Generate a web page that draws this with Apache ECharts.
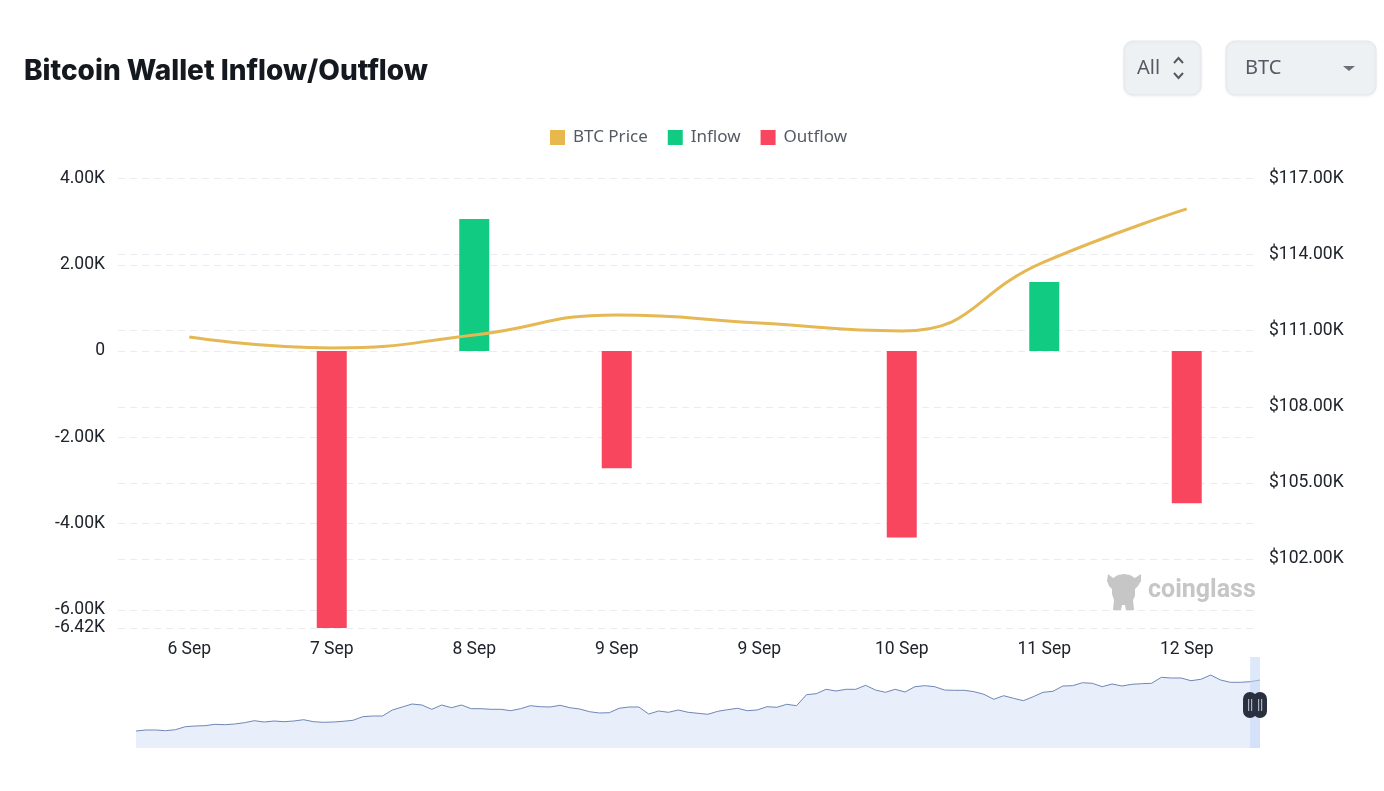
<!DOCTYPE html>
<html>
<head>
<meta charset="utf-8">
<style>html,body{margin:0;padding:0;background:#fff}#c{width:1384px;height:791px}</style>
<script src="https://cdn.jsdelivr.net/npm/echarts@6/dist/echarts.min.js"></script>
</head>
<body>
<div id="c"></div>
<script>
const categories = ['6 Sep','7 Sep','8 Sep','9 Sep','9 Sep','10 Sep','11 Sep','12 Sep'];
const btcPrice = [110750,110320,110830,111620,111300,110990,113710,115800];
const inflow = [null,null,3060,null,null,null,1600,null];
const outflow = [null,-6420,null,-2715,null,-4320,null,-3530];
const overviewPrice = [
17,18,18,17.3,18.3,21.3,22,22.3,23.7,23.3,24,25.3,27.3,26,27,26.3,27,28.3,26.3,25.7,26,26.7,27.7,31.3,32,32,38,41,44,
43,38.7,43,40.3,43,39.3,39.3,38.7,38.7,37.3,39.3,42.3,41.3,41,42.7,40.3,39,36.3,35,35.3,39.7,41,41,34,37,35.7,38,35.7,34.7,
33.7,36.7,38.3,39.7,37.3,38,41.3,40.7,43.7,42.3,53.3,54.3,58.7,57,58.7,58.7,62.7,58,55.7,58.7,56,61.3,62.3,61.3,58,57.7,57.7,56.3,
53.7,48.7,52.3,49.7,47.3,51.3,55.7,56.7,62,62.3,65.3,64.7,61.3,64,62,63.7,64.3,64.7,70.7,70,70,67.3,68.7,73,68,65.7,65.7,66.3,68
];
const overviewIndex = overviewPrice.map((_, i) => i);
const leftTicks = [-6420,-6000,-4000,-2000,0,2000,4000];
const rightTicks = [99280,102000,105000,108000,111000,114000,117000];
const rightLabels = [102000,105000,108000,111000,114000,117000];

const labelFont = 'Roboto';
const uiFont = '"Noto Sans"';
const split = {show:true,lineStyle:{color:'#e9ecf1',type:[7,5],width:1.2}};
const kFmt = v => v === 0 ? '0' : (v/1000).toFixed(2) + 'K';
const last = overviewPrice.length - 1;

const chart = echarts.init(document.getElementById('c'));
const option = {
  animation:false,
  backgroundColor:'#fff',
  title:{text:'Bitcoin Wallet Inflow/Outflow',left:19,top:53,textStyle:{fontFamily:'Inter',fontSize:28,fontWeight:800,color:'#14181f',letterSpacing:-0.87}},
  legend:{top:124,left:545,itemWidth:15,itemHeight:15,itemGap:20,icon:'rect',
    data:['BTC Price','Inflow','Outflow'],
    textStyle:{fontFamily:uiFont,fontSize:17,color:'#555a63',padding:[0,0,0,3]}},
  grid:[
    {left:118,right:126,top:178.5,height:449.5},
    {left:136,right:124,top:657,height:91}
  ],
  xAxis:[
    {type:'category',data:categories,gridIndex:0,axisLine:{show:false},axisTick:{show:false},
     axisLabel:{fontFamily:labelFont,fontSize:17.5,color:'#20242b',margin:13,interval:0}},
    {type:'category',data:overviewIndex,gridIndex:1,boundaryGap:false,show:false}
  ],
  yAxis:[
    {type:'value',gridIndex:0,min:-6420,max:4000,
     axisLine:{show:false},axisTick:{show:false,customValues:leftTicks},splitLine:split,
     axisLabel:{fontFamily:labelFont,fontSize:17.5,color:'#20242b',margin:13,formatter:kFmt,customValues:leftTicks}},
    {type:'value',gridIndex:0,position:'right',min:99280,max:117000,
     axisLine:{show:false},axisTick:{show:false,customValues:rightTicks},splitLine:split,
     axisLabel:{fontFamily:labelFont,fontSize:17.5,color:'#20242b',margin:11,
       formatter:v => '$' + (v/1000).toFixed(2) + 'K',customValues:rightLabels}},
    {type:'value',gridIndex:1,min:0,max:91,show:false}
  ],
  series:[
    {name:'BTC Price',type:'line',yAxisIndex:1,data:btcPrice,smooth:true,showSymbol:false,symbol:'none',z:5,
     lineStyle:{color:'#e5b854',width:3},itemStyle:{color:'#e8b84f'}},
    {name:'Inflow',type:'bar',stack:'flow',data:inflow,barWidth:30,itemStyle:{color:'#10cb81'}},
    {name:'Outflow',type:'bar',stack:'flow',data:outflow,barWidth:30,itemStyle:{color:'#f9465f'}},
    {name:'Overview',type:'line',xAxisIndex:1,yAxisIndex:2,data:overviewPrice,showSymbol:false,symbol:'none',
     lineStyle:{color:'#6f87b5',width:1},areaStyle:{color:'#e8effb',opacity:1},silent:true,
     markArea:{silent:true,z:6,itemStyle:{color:'#c3d5f8',opacity:0.55},data:[[{xAxis:last-1,yAxis:0},{xAxis:last,yAxis:91}]]}}
  ],
  graphic:[
    {type:'rect',shape:{x:1124,y:41,width:77,height:54,r:9},style:{fill:'#eef1f4',stroke:'#e3e7eb',lineWidth:1,shadowBlur:3,shadowColor:'rgba(0,0,0,0.06)',shadowOffsetY:1}},
    {type:'text',x:1137,y:58,style:{text:'All',fontFamily:uiFont,fontSize:20,fill:'#555a63'}},
    {type:'polyline',shape:{points:[[1174,63],[1178.5,58],[1183,63]]},style:{stroke:'#555a63',lineWidth:2,fill:null}},
    {type:'polyline',shape:{points:[[1174,73],[1178.5,78],[1183,73]]},style:{stroke:'#555a63',lineWidth:2,fill:null}},
    {type:'rect',shape:{x:1226,y:41,width:150,height:54,r:9},style:{fill:'#eef1f4',stroke:'#e3e7eb',lineWidth:1,shadowBlur:3,shadowColor:'rgba(0,0,0,0.06)',shadowOffsetY:1}},
    {type:'text',x:1245,y:58,style:{text:'BTC',fontFamily:uiFont,fontSize:20,fill:'#555a63'}},
    {type:'polygon',shape:{points:[[1343,66],[1355,66],[1349,71]]},style:{fill:'#6b7079'}},
    {type:'polygon',shape:{points:[[1108,574],[1113,578],[1118,575],[1124,574],[1130,575],[1135,578],[1141,574],[1141,581],[1138,586],[1135,589],[1135,596],[1133,600],[1134,610],[1126,610],[1125,605],[1122,605],[1121,610],[1113,610],[1114,600],[1112,594],[1112,589],[1109,586],[1107,581]]},
     style:{fill:'#c6c6c6'}},
    {type:'text',x:1148,y:578,style:{text:'coinglass',fontFamily:'Roboto',fontWeight:700,fontSize:25,fill:'#c6c6c6'}},
    {type:'rect',shape:{x:1243,y:692,width:14,height:26,r:7},style:{fill:'#2b3040'},z:20},
    {type:'rect',shape:{x:1253,y:692,width:14,height:26,r:7},style:{fill:'#2b3040'},z:20},
    {type:'rect',shape:{x:1248,y:699,width:1.2,height:12},style:{fill:'#aab0bd'},z:21},
    {type:'rect',shape:{x:1251,y:699,width:1.2,height:12},style:{fill:'#aab0bd'},z:21},
    {type:'rect',shape:{x:1258,y:699,width:1.2,height:12},style:{fill:'#aab0bd'},z:21},
    {type:'rect',shape:{x:1261,y:699,width:1.2,height:12},style:{fill:'#aab0bd'},z:21}
  ]
};
chart.setOption(option);
</script>
</body>
</html>
